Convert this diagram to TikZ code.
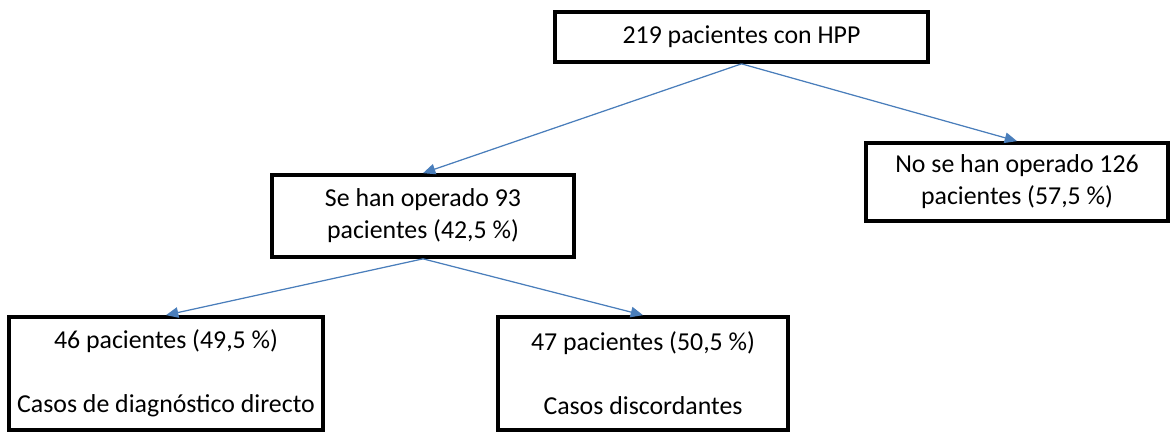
\documentclass[tikz,border=0pt]{standalone}
\usepackage{fontspec}
\setmainfont{Carlito}
\usepackage{xcolor}
\usepackage{tikz}
\usetikzlibrary{calc, positioning, arrows.meta}
\definecolor{flecha}{HTML}{4A7EBB}

\begin{document}
\begin{tikzpicture}
			[caja/.style={draw, line width=2.1pt, align=center, inner sep=0pt,
				font=\fontsize{14.7}{18.2}\selectfont},
			 rama/.style={-{Triangle[length=7pt,width=6pt]}, draw=flecha, fill=flecha, line width=0.7pt}]
		\useasboundingbox (0,0) rectangle (23.42,-8.64);
		% nodes %
		\node[caja, minimum width=7.46cm, minimum height=1.0cm] (total) at (14.83,-0.74) {219 pacientes con HPP};
		\node[caja, minimum width=6.04cm, minimum height=1.64cm] (oper) at (8.46,-4.32) {Se han operado 93\\pacientes (42,5 \%)};
		\node[caja, minimum width=6.04cm, minimum height=1.56cm] (nooper) at (20.34,-3.64) {No se han operado 126\\pacientes (57,5 \%)};
		\node[caja, minimum width=6.28cm, minimum height=2.26cm] (directo) at (3.32,-7.47) {46 pacientes (49,5 \%)\\[18.2pt]Casos de diagnóstico directo};
		\node[caja, minimum width=5.8cm, minimum height=2.26cm] (discord) at (12.86,-7.47) {47 pacientes (50,5 \%)\\[18.2pt]Casos discordantes};

		% edges %
		\draw[rama] (total.south) -- (oper.north);
		\draw[rama] (total.south) -- (nooper.north);
		\draw[rama] (oper.south) -- (directo.north);
		\draw[rama] (oper.south) -- (discord.north);
		\end{tikzpicture}
\end{document}
